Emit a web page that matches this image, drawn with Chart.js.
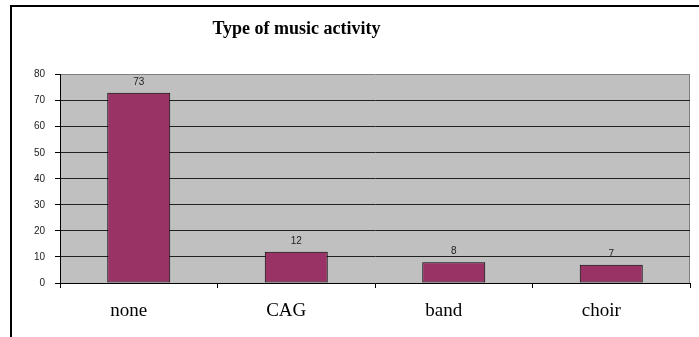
<!DOCTYPE html>
<html>
<head>
<meta charset="utf-8">
<script src="https://cdn.jsdelivr.net/npm/chart.js@4"></script>
<style>
  html, body { margin: 0; padding: 0; background: #fff; }
  #wrap { position: relative; width: 699px; height: 337px; overflow: hidden; }
  #frame {
    position: absolute; left: 10px; top: 5px; width: 800px; height: 400px;
    border-left: 2px solid #000; border-top: 2px solid #000;
  }
  #box { position: absolute; left: 0; top: 0; width: 699px; height: 337px; }
</style>
</head>
<body>
<div id="wrap">
  <div id="frame"></div>
  <div id="box"><canvas id="myChart"></canvas></div>
</div>
<script>
// 데이터
const categories = ["none", "CAG", "band", "choir"];
const counts = [73, 12, 8, 7];
const yTicks = [0, 10, 20, 30, 40, 50, 60, 70, 80];

// 회색 플롯 배경 + 오른쪽 테두리
const plotBackground = {
  id: "plotBackground",
  beforeDraw(chart) {
    const { ctx, chartArea: a } = chart;
    ctx.save();
    ctx.fillStyle = "#c0c0c0";
    ctx.fillRect(a.left, a.top, a.right - a.left, a.bottom - a.top);
    ctx.strokeStyle = "#808080";
    ctx.lineWidth = 1;
    ctx.beginPath();
    ctx.moveTo(a.right - 0.5, a.top);
    ctx.lineTo(a.right - 0.5, a.bottom);
    ctx.stroke();
    ctx.restore();
  },
};

// 막대 위 값 표시
const valueLabels = {
  id: "valueLabels",
  afterDatasetsDraw(chart) {
    const { ctx } = chart;
    const meta = chart.getDatasetMeta(0);
    ctx.save();
    ctx.font = "10px 'Liberation Sans', Arial, sans-serif";
    ctx.fillStyle = "#222";
    ctx.textAlign = "center";
    ctx.textBaseline = "alphabetic";
    meta.data.forEach((bar, i) => {
      ctx.fillText(String(counts[i]), bar.x, bar.y - 8);
    });
    ctx.restore();
  },
};

// 제목을 플롯 왼쪽 쪽으로 치우치게 배치
const titleShift = {
  id: "titleShift",
  afterLayout(chart) {
    if (chart.titleBlock) {
      chart.titleBlock.left = 0;
      chart.titleBlock.right = 593;
    }
  },
};

const ctx = document.getElementById("myChart").getContext("2d");
const myChart = new Chart(ctx, {
  type: "bar",
  data: {
    labels: categories,
    datasets: [
      {
        data: counts,
        backgroundColor: "#993366",
        borderColor: "#000",
        borderWidth: 1,
        borderSkipped: false,
        categoryPercentage: 1,
        barPercentage: 0.4,
      },
    ],
  },
  options: {
    responsive: true,
    maintainAspectRatio: false,
    animation: false,
    layout: { padding: { left: 0, right: 9, top: 0, bottom: 0 } },
    plugins: {
      legend: { display: false },
      tooltip: { enabled: false },
      title: {
        display: true,
        text: "Type of music activity",
        color: "#000",
        font: { family: "'Liberation Serif', 'Times New Roman', serif", size: 18, weight: "bold" },
        padding: { top: 19, bottom: 34 },
      },
    },
    scales: {
      x: {
        offset: true,
        grid: {
          offset: true,
          drawOnChartArea: false,
          drawTicks: true,
          tickLength: 5,
          tickColor: "#000",
        },
        border: { color: "#000", width: 1 },
        ticks: {
          color: "#000",
          padding: 12,
          labelOffset: -10,
          font: { family: "'Liberation Serif', 'Times New Roman', serif", size: 19 },
        },
        afterFit(scale) {
          scale.height = 54;
        },
      },
      y: {
        min: 0,
        max: 80,
        afterBuildTicks(scale) {
          scale.ticks = yTicks.map((v) => ({ value: v }));
        },
        grid: {
          color: (c) => (c.tick && c.tick.value === 80 ? "#808080" : "#222"),
          tickColor: "#000",
          tickLength: 5,
        },
        border: { color: "#000", width: 1 },
        ticks: {
          color: "#222",
          padding: 10,
          font: { family: "'Liberation Sans', Arial, sans-serif", size: 10 },
        },
        afterFit(scale) {
          scale.width = 60;
        },
      },
    },
  },
  plugins: [plotBackground, valueLabels, titleShift],
});

window.addEventListener("resize", () => {
  myChart.resize();
});
</script>
</body>
</html>
